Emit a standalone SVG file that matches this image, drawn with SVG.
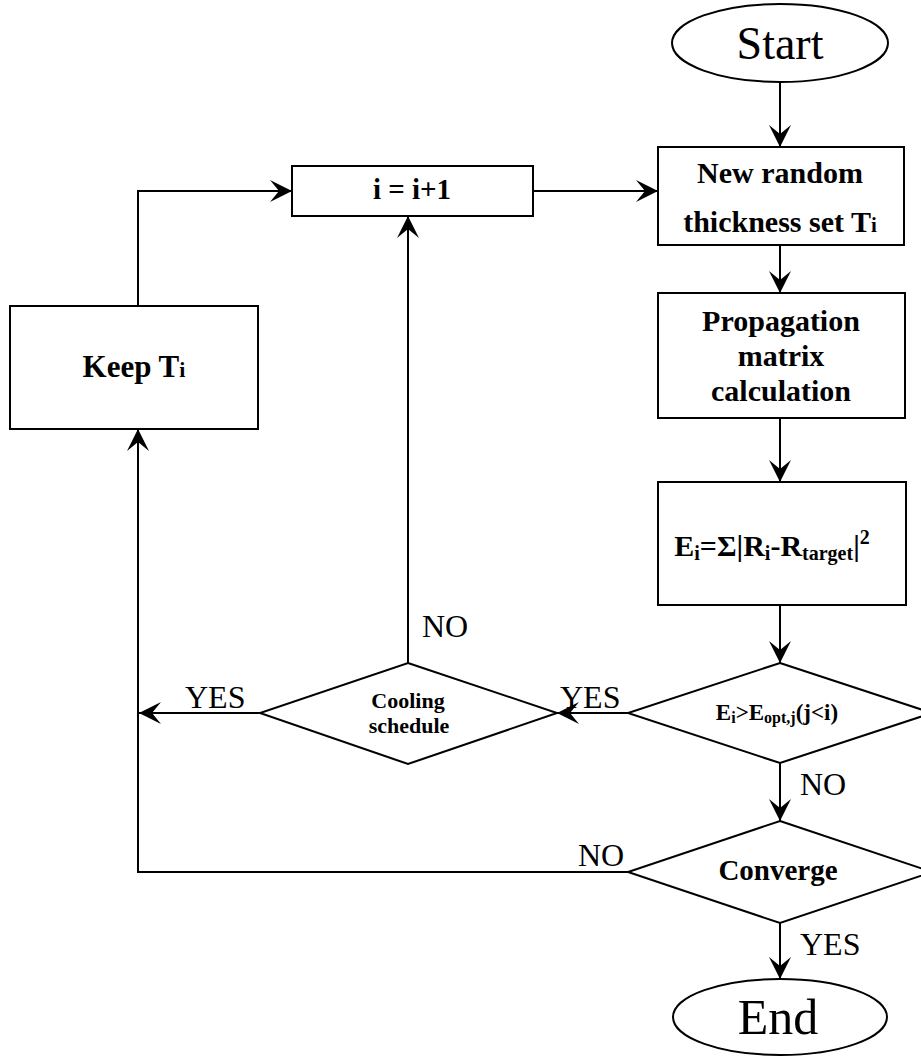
<svg xmlns="http://www.w3.org/2000/svg" width="921" height="1057" viewBox="0 0 921 1057">
<style>
.s{fill:#fff;stroke:#000;stroke-width:2}
.c{fill:none;stroke:#000;stroke-width:2}
.b{font-family:"Liberation Serif","Times New Roman",serif;font-weight:bold;fill:#000;text-anchor:middle}
.r{font-family:"Liberation Serif","Times New Roman",serif;fill:#000}
</style>
<defs>
<marker id="a" markerUnits="userSpaceOnUse" markerWidth="26" markerHeight="26" refX="22" refY="12" orient="auto" viewBox="0 0 26 24">
<path d="M0,1 L22,12 L0,23 L9,12 Z" fill="#000"/>
</marker>
</defs>
<rect width="921" height="1057" fill="#fff"/>
<g id="connectors">
<path class="c" d="M780,82 V147" marker-end="url(#a)"/>
<path class="c" d="M780,245 V293" marker-end="url(#a)"/>
<path class="c" d="M780,418 V482" marker-end="url(#a)"/>
<path class="c" d="M780,605 V663" marker-end="url(#a)"/>
<path class="c" d="M780,763 V821" marker-end="url(#a)"/>
<path class="c" d="M780,923 V979" marker-end="url(#a)"/>
<path class="c" d="M533,191 H658" marker-end="url(#a)"/>
<path class="c" d="M138,306 V191 H292" marker-end="url(#a)"/>
<path class="c" d="M408,663 V216" marker-end="url(#a)"/>
<path class="c" d="M628,713 H557" marker-end="url(#a)"/>
<path class="c" d="M260,713 H139" marker-end="url(#a)"/>
<path class="c" d="M628,872 H138 V429" marker-end="url(#a)"/>
<text class="r" x="800" y="795" font-size="32">NO</text>
<text class="r" x="800" y="955" font-size="32">YES</text>
<text class="r" x="560" y="708" font-size="32">YES</text>
<text class="r" x="185" y="708" font-size="32">YES</text>
<text class="r" x="422" y="637" font-size="32">NO</text>
<text class="r" x="578" y="866" font-size="32">NO</text>
</g>
<g id="start">
<ellipse class="s" cx="780" cy="43" rx="108" ry="39"/>
<text class="r" x="780" y="59" font-size="46" text-anchor="middle">Start</text>
</g>
<g id="new-random">
<rect class="s" x="658" y="147" width="246" height="98"/>
<text class="b" x="780" y="183" font-size="30">New random</text>
<text class="b" x="780" y="232" font-size="30">thickness set T<tspan font-size="21">i</tspan></text>
</g>
<g id="propagation">
<rect class="s" x="658" y="293" width="247" height="125"/>
<text class="b" x="781" y="331" font-size="30">Propagation</text>
<text class="b" x="781" y="366" font-size="30">matrix</text>
<text class="b" x="781" y="401" font-size="30">calculation</text>
</g>
<g id="energy">
<rect class="s" x="658" y="482" width="248" height="123"/>
<text class="b" x="772" y="556" font-size="30">E<tspan font-size="20" dy="4">i</tspan><tspan dy="-4">=Σ|R</tspan><tspan font-size="20" dy="4">i</tspan><tspan dy="-4">-R</tspan><tspan font-size="20" dy="4">target</tspan><tspan dy="-4">|</tspan><tspan font-size="20" dy="-12">2</tspan></text>
</g>
<g id="compare">
<polygon class="s" points="780,663 932,713 780,763 628,713"/>
<text class="b" x="777" y="720" font-size="23">E<tspan font-size="16" dy="3">i</tspan><tspan dy="-3">&gt;E</tspan><tspan font-size="16" dy="3">opt,j</tspan><tspan dy="-3">(j&lt;i)</tspan></text>
</g>
<g id="converge">
<polygon class="s" points="780,821 932,872 780,923 628,872"/>
<text class="b" x="778" y="880" font-size="29">Converge</text>
</g>
<g id="end">
<ellipse class="s" cx="780" cy="1017" rx="107" ry="38"/>
<text class="r" x="778" y="1034" font-size="50" text-anchor="middle">End</text>
</g>
<g id="increment">
<rect class="s" x="292" y="166" width="241" height="50"/>
<text class="b" x="412" y="199" font-size="29">i = i+1</text>
</g>
<g id="keep">
<rect class="s" x="10" y="306" width="248" height="123"/>
<text class="b" x="134" y="377" font-size="31">Keep T<tspan font-size="22">i</tspan></text>
</g>
<g id="cooling">
<polygon class="s" points="408,663 557,713 408,764 260,713"/>
<text class="b" x="408" y="708" font-size="22">Cooling</text>
<text class="b" x="409" y="733" font-size="22">schedule</text>
</g>
</svg>
